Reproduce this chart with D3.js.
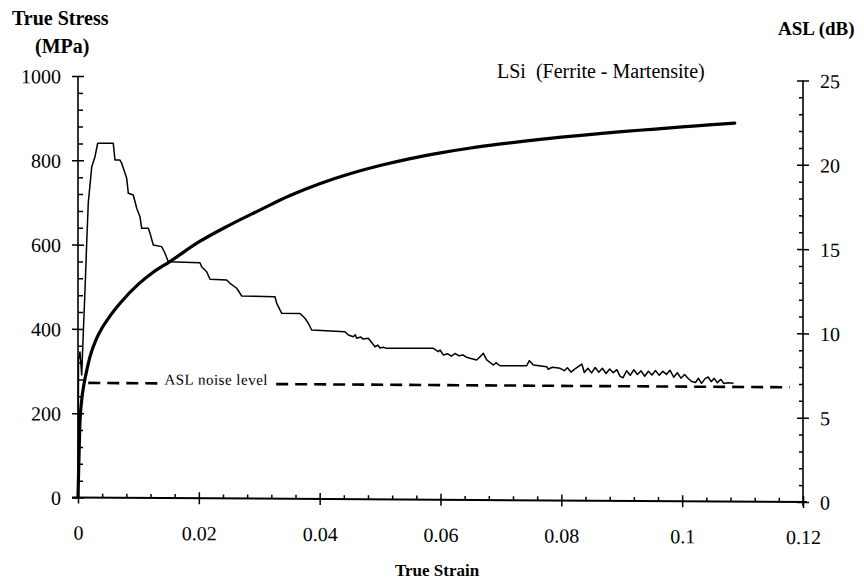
<!DOCTYPE html>
<html>
<head>
<meta charset="utf-8">
<script src="https://cdn.jsdelivr.net/npm/d3@7"></script>
<style>
  html, body { margin: 0; padding: 0; background: #fff; }
  svg { display: block; }
  text { font-family: "Liberation Serif", "Times New Roman", serif; fill: #000; }
</style>
</head>
<body>
<svg id="chart" width="864" height="584"></svg>
<script>
// True stress – true strain curve (left axis, MPa)
const stressStrain = [0, 0.0001, 0.0003, 0.0006, 0.001, 0.0015, 0.002, 0.003, 0.004, 0.005, 0.007, 0.01, 0.0125, 0.0152, 0.02, 0.025, 0.03, 0.035, 0.04, 0.045, 0.05, 0.055, 0.06, 0.065, 0.07, 0.075, 0.08, 0.085, 0.09, 0.095, 0.1, 0.105, 0.1087];
const stressMPa    = [0, 60, 170, 230, 270, 305, 335, 375, 403, 425, 462, 507, 536, 561, 608, 648, 684, 719, 748, 772, 792, 809, 823, 835, 845, 854, 862, 869, 876, 882, 888, 894, 898];

// Acoustic signal level (right axis, dB)
const aslStrain = [0, 0.00005, 0.00008, 0.00033, 0.00061, 0.00083, 0.00116, 0.00144, 0.0017, 0.00227, 0.00281, 0.00326, 0.00584, 0.00612, 0.00695, 0.00723, 0.00806, 0.00833, 0.00915, 0.00972, 0.01026, 0.01054, 0.01164, 0.01192, 0.01246, 0.01385, 0.0144, 0.01495, 0.02019, 0.02047, 0.0213, 0.02185, 0.02461, 0.02516, 0.02627, 0.0271, 0.03261, 0.03289, 0.03372, 0.03674, 0.03757, 0.03812, 0.03868, 0.04419, 0.04474, 0.04557, 0.0459, 0.04613, 0.0468, 0.0472, 0.04805, 0.04916, 0.0496, 0.0500, 0.05053, 0.0511, 0.05881, 0.05964, 0.05992, 0.06046, 0.0612, 0.0618, 0.0624, 0.0630, 0.06377, 0.0642, 0.06488, 0.06599, 0.06654, 0.06708, 0.06765, 0.06874, 0.0692, 0.06985, 0.07427, 0.0747, 0.07536, 0.07758, 0.07784, 0.0785, 0.0798, 0.0805, 0.0810, 0.0816, 0.0822, 0.0828, 0.0834, 0.0838, 0.0844, 0.0850, 0.0856, 0.0862, 0.0868, 0.0874, 0.0880, 0.0886, 0.0892, 0.0897, 0.0902, 0.0908, 0.0914, 0.0920, 0.0926, 0.0932, 0.0938, 0.0944, 0.0950, 0.0956, 0.0962, 0.0968, 0.0974, 0.0980, 0.0986, 0.0992, 0.0998, 0.1004, 0.1010, 0.1016, 0.1022, 0.1027, 0.1032, 0.1038, 0.1043, 0.1048, 0.1053, 0.1058, 0.1064, 0.1069, 0.1076, 0.1085];
const aslDB     = [0, 3.4, 8.16, 8.63, 7.27, 9.34, 12.31, 15.1, 17.47, 19.61, 20.22, 21.02, 21.02, 20.03, 20.03, 19.84, 18.95, 18.06, 17.96, 17.18, 16.68, 15.99, 15.99, 15.7, 15.0, 14.91, 14.52, 14.02, 13.97, 13.73, 13.44, 12.99, 12.95, 12.76, 12.47, 12.01, 11.98, 11.59, 11.0, 11.0, 10.71, 10.42, 10.02, 9.93, 9.74, 9.64, 9.75, 9.55, 9.62, 9.50, 9.55, 9.05, 9.15, 8.98, 9.02, 8.96, 8.98, 8.78, 8.88, 8.59, 8.66, 8.52, 8.68, 8.55, 8.59, 8.48, 8.40, 8.30, 8.5, 8.70, 8.31, 8.01, 8.14, 7.97, 7.98, 8.28, 8.03, 7.93, 7.78, 7.90, 7.84, 7.70, 7.88, 7.62, 7.80, 7.95, 8.10, 7.60, 7.85, 7.58, 7.90, 7.62, 7.86, 7.55, 7.82, 7.60, 7.78, 7.40, 7.30, 7.72, 7.45, 7.78, 7.50, 7.72, 7.40, 7.70, 7.48, 7.74, 7.46, 7.70, 7.52, 7.76, 7.35, 7.62, 7.30, 7.52, 7.28, 7.10, 7.05, 7.30, 7.00, 7.28, 7.38, 7.10, 7.30, 7.05, 7.24, 7.00, 7.04, 7.02];

// ASL noise level (dB), drawn as a dashed line in two pieces around its label
const noiseLevelDB = 6.8;
const noiseSegments = [[0.0017, 0.0133], [0.0328, 0.1178]];

// Axis ticks
const strainTicks = [0, 0.02, 0.04, 0.06, 0.08, 0.1, 0.12];
const strainTickLabels = ["0", "0.02", "0.04", "0.06", "0.08", "0.1", "0.12"];
const stressTicks = [0, 200, 400, 600, 800, 1000];
const aslTicks = [0, 5, 10, 15, 20, 25];

const svg = d3.select("#chart");
const x0 = 78, x1 = 803, yBottom = 497.5, yTop = 76;

const x = d3.scaleLinear().domain([0, 0.12]).range([x0, x1]);
const yL = d3.scaleLinear().domain([0, 1000]).range([yBottom, yTop]);
const yR = d3.scaleLinear().domain([0, 25]).range([yBottom, yTop]);

// The plot frame leans slightly: the baseline drops a few pixels from left to right
const k = 4.5 / 725;
const plot = svg.append("g").attr("transform", `matrix(1,${k},0,1,0,${-k * x0})`);

function crossTicks(sel, horizontal) {
  sel.selectAll(".tick line").each(function () {
    const l = d3.select(this);
    if (horizontal) l.attr("y1", -6).attr("y2", 6);
    else l.attr("x1", -6).attr("x2", 6);
  });
}
function labelFont(sel) {
  sel.attr("font-size", 20).attr("font-family", null)
     .style("font-size", "20px");
}

// Bottom axis
const xMinor = d3.range(0, 0.1201, 0.004).filter(v => strainTicks.every(t => Math.abs(t - v) > 1e-6));
plot.append("g").attr("transform", `translate(0,${yBottom})`)
  .call(d3.axisBottom(x).tickValues(xMinor).tickSize(-4).tickFormat(""))
  .call(g => g.select(".domain").remove());
const gxMaj = plot.append("g").attr("transform", `translate(0,${yBottom})`)
  .call(d3.axisBottom(x).tickValues(strainTicks).tickSize(6)
    .tickFormat((d, i) => strainTickLabels[i]));
gxMaj.call(labelFont).call(g => crossTicks(g, true));
gxMaj.select(".domain").attr("d", `M${x0 - 6},0H${x1 + 4}`).attr("stroke-width", 2);
gxMaj.selectAll("text").attr("y", 42).attr("dy", 0);

// Left axis
const lMinor = d3.range(0, 1001, 40).filter(v => v % 200 !== 0);
plot.append("g").attr("transform", `translate(${x0},0)`)
  .call(d3.axisLeft(yL).tickValues(lMinor).tickSize(-5).tickFormat(""))
  .call(g => g.select(".domain").remove());
const gl = plot.append("g").attr("transform", `translate(${x0},0)`)
  .call(d3.axisLeft(yL).tickValues(stressTicks).tickSize(6).tickFormat(d3.format("d")));
gl.call(labelFont).call(g => crossTicks(g, false));
gl.select(".domain").attr("d", `M0,${yBottom}V${yTop}`).attr("stroke-width", 1.6);
gl.selectAll("text").attr("x", -17).attr("dy", "0.35em");

// Right axis
const rMinor = d3.range(0, 26, 1).filter(v => v % 5 !== 0);
plot.append("g").attr("transform", `translate(${x1},0)`)
  .call(d3.axisRight(yR).tickValues(rMinor).tickSize(-4).tickFormat(""))
  .call(g => g.select(".domain").remove());
const gr = plot.append("g").attr("transform", `translate(${x1},0)`)
  .call(d3.axisRight(yR).tickValues(aslTicks).tickSize(6).tickFormat(d3.format("d")));
gr.call(labelFont).call(g => crossTicks(g, false));
gr.select(".domain").attr("d", `M0,${yBottom + 4}V${yTop}`).attr("stroke-width", 1.6);
gr.selectAll("text").attr("x", 17).attr("dy", "0.35em");

plot.selectAll(".tick line").attr("stroke", "#000").attr("stroke-width", 1.5);

// ASL noise level (dashed)
const noiseLine = d3.line().x(d => x(d)).y(() => yR(noiseLevelDB));
noiseSegments.forEach(seg => {
  plot.append("path").attr("d", noiseLine(seg))
    .attr("fill", "none").attr("stroke", "#000").attr("stroke-width", 2.6)
    .attr("stroke-dasharray", "12,7");
});
plot.append("text").attr("x", x(0.0143)).attr("y", yR(noiseLevelDB) + 1)
  .style("font-size", "15px").attr("letter-spacing", "0.5px")
  .text("ASL noise level");

// ASL curve (thin)
const aslLine = d3.line().x(d => x(d[0])).y(d => yR(d[1]));
plot.append("path").attr("d", aslLine(aslStrain.map((s, i) => [s, aslDB[i]])))
  .attr("fill", "none").attr("stroke", "#000").attr("stroke-width", 1.5)
  .attr("stroke-linejoin", "round");

// True stress curve (thick)
const stressLine = d3.line().curve(d3.curveMonotoneX).x(d => x(d[0])).y(d => yL(d[1]));
plot.append("path").attr("d", stressLine(stressStrain.map((s, i) => [s, stressMPa[i]])))
  .attr("fill", "none").attr("stroke", "#000").attr("stroke-width", 3.2)
  .attr("stroke-linecap", "round");

// Titles
svg.append("text").attr("x", 12).attr("y", 25).style("font-size", "20px").style("font-weight", "bold").text("True Stress");
svg.append("text").attr("x", 35).attr("y", 53).style("font-size", "20px").style("font-weight", "bold").text("(MPa)");
svg.append("text").attr("x", 778).attr("y", 35).style("font-size", "19px").style("font-weight", "bold").text("ASL (dB)");
svg.append("text").attr("x", 437).attr("y", 576).attr("text-anchor", "middle").style("font-size", "17px").style("font-weight", "bold").text("True Strain");
svg.append("text").attr("x", 497).attr("y", 78).style("font-size", "20px").attr("xml:space", "preserve").text("LSi  (Ferrite - Martensite)");
</script>
</body>
</html>
